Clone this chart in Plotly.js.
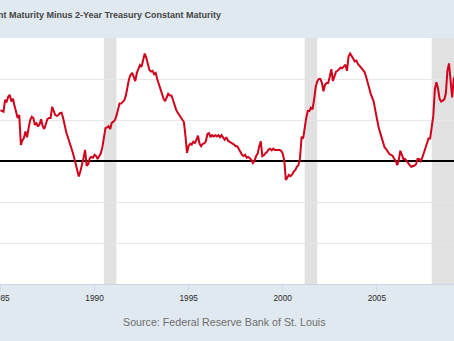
<!DOCTYPE html>
<html>
<head>
<meta charset="utf-8">
<script src="https://cdn.plot.ly/plotly-3.0.1.min.js"></script>
<style>html,body{margin:0;padding:0;background:#e1e9f0;}#chart{width:454px;height:341px;}</style>
</head>
<body>
<div id="chart"></div>
<script>
// Monthly values of the 10Y-2Y Treasury spread (percent), starting January 1985
const startYear = 1985;
const spread = [
 1.24,1.22,1.20,1.49,1.45,1.57,1.61,1.45,1.52,1.35,1.20,1.05,
 1.12,0.39,0.50,0.56,0.72,0.58,0.80,1.00,1.08,1.05,0.88,0.92,
 0.84,0.90,1.02,0.85,0.78,0.92,1.02,1.05,1.05,1.32,1.22,1.12,
 1.10,1.12,1.17,1.18,1.05,0.85,0.70,0.58,0.47,0.38,0.22,0.08,
 -0.08,-0.22,-0.38,-0.25,-0.12,0.07,0.27,-0.12,-0.08,0.07,0.10,0.08,
 0.15,0.12,0.05,0.12,0.18,0.33,0.60,0.80,0.82,0.85,0.78,0.93,
 0.96,1.00,1.10,1.26,1.40,1.40,1.44,1.48,1.60,1.82,2.00,2.10,
 2.15,2.05,1.95,2.15,2.23,2.34,2.30,2.48,2.62,2.52,2.38,2.22,
 2.18,2.20,2.12,2.15,2.00,1.88,1.75,1.63,1.52,1.46,1.56,1.64,
 1.60,1.60,1.50,1.36,1.26,1.18,1.12,1.08,1.03,0.95,0.60,0.20,
 0.37,0.42,0.40,0.47,0.44,0.51,0.62,0.42,0.36,0.42,0.43,0.48,
 0.66,0.68,0.58,0.63,0.60,0.63,0.60,0.63,0.58,0.63,0.57,0.52,
 0.58,0.50,0.47,0.45,0.44,0.40,0.36,0.36,0.29,0.21,0.15,0.12,
 0.15,0.08,0.10,0.07,0.03,-0.05,0.00,0.12,0.18,0.35,0.48,0.12,
 0.14,0.19,0.22,0.28,0.30,0.26,0.30,0.27,0.27,0.27,0.27,0.25,
 0.18,0.00,-0.46,-0.40,-0.34,-0.37,-0.33,-0.26,-0.22,-0.14,-0.10,0.07,
 0.59,0.55,0.85,1.05,1.22,1.22,1.30,1.26,1.50,1.80,1.94,2.00,
 2.00,1.90,1.70,1.86,1.90,1.90,2.05,2.24,1.95,2.06,2.18,2.20,
 2.24,2.28,2.26,2.30,2.35,2.20,2.55,2.62,2.55,2.50,2.43,2.45,
 2.36,2.32,2.28,2.24,2.18,2.08,1.90,1.80,1.65,1.52,1.45,1.24,
 1.02,0.84,0.71,0.59,0.45,0.33,0.29,0.22,0.17,0.15,0.13,0.06,
 0.00,-0.10,0.02,0.25,0.12,0.05,0.05,-0.01,-0.06,-0.10,-0.14,-0.13,
 -0.11,-0.08,0.05,0.05,0.00,0.08,0.20,0.30,0.42,0.55,0.55,0.88,
 1.10,1.75,1.92,1.78,1.52,1.45,1.48,1.50,1.65,2.20,2.38,1.85,
 1.55,2.00,2.08,2.05
];
const recessionStarts = ['1990-07-01','2001-03-01','2007-12-01'];
const recessionEnds   = ['1991-03-01','2001-11-01','2009-06-01'];
const tickYears = ['1985','1990','1995','2000','2005'];
const titleText = '10-Year Treasury Constant Maturity Minus 2-Year Treasury Constant Maturity';
const sourceText = 'Source: Federal Reserve Bank of St. Louis';

const dates = spread.map((_, i) => {
  const y = startYear + Math.floor(i / 12);
  const m = (i % 12) + 1;
  return y + '-' + (m < 10 ? '0' + m : m) + '-01';
});

const shapes = recessionStarts.map((s, k) => ({
  type: 'rect', xref: 'x', yref: 'paper', x0: s, x1: recessionEnds[k], y0: 0, y1: 1,
  fillcolor: '#e1e1e1', line: {width: 0}, layer: 'between'
}));

const font = 'Liberation Sans, Arial, sans-serif';

Plotly.newPlot('chart', [{
  x: dates, y: spread, type: 'scatter', mode: 'lines',
  line: {color: '#d0021b', width: 2}, hoverinfo: 'skip'
}], {
  width: 454, height: 341,
  margin: {l: 0, r: 0, t: 38, b: 57, pad: 0},
  paper_bgcolor: '#e1e9f0', plot_bgcolor: '#ffffff',
  showlegend: false,
  xaxis: {
    type: 'date', range: ['1984-12-23', '2009-02-06'],
    tickvals: tickYears.map(y => y + '-01-01'), ticktext: tickYears,
    ticklabeloverflow: 'allow',
    ticks: 'outside', ticklen: 6, tickcolor: '#ccd6eb', tickwidth: 1,
    showgrid: false, showline: true, linecolor: '#ccd6eb', linewidth: 1,
    tickfont: {family: font, size: 8.3, color: '#2a2a2a'}, zeroline: false
  },
  yaxis: {
    range: [-3, 3], dtick: 1, showticklabels: false, ticks: '',
    showgrid: true, gridcolor: '#e6e6e6', gridwidth: 1,
    zeroline: true, zerolinecolor: '#000000', zerolinewidth: 1.5, showline: false
  },
  shapes: shapes,
  annotations: [
    {text: titleText, xref: 'paper', yref: 'paper', x: 223/454, y: 1 + 23/246,
     xanchor: 'right', yanchor: 'middle', showarrow: false,
     font: {family: font, size: 9, color: '#444444', weight: 'bold'}},
    {text: sourceText, xref: 'paper', yref: 'paper', x: 224/454, y: -38/246,
     xanchor: 'center', yanchor: 'middle', showarrow: false,
     font: {family: font, size: 10.7, color: '#6d6d6d'}}
  ]
}, {staticPlot: true, displayModeBar: false});
</script>
</body>
</html>
